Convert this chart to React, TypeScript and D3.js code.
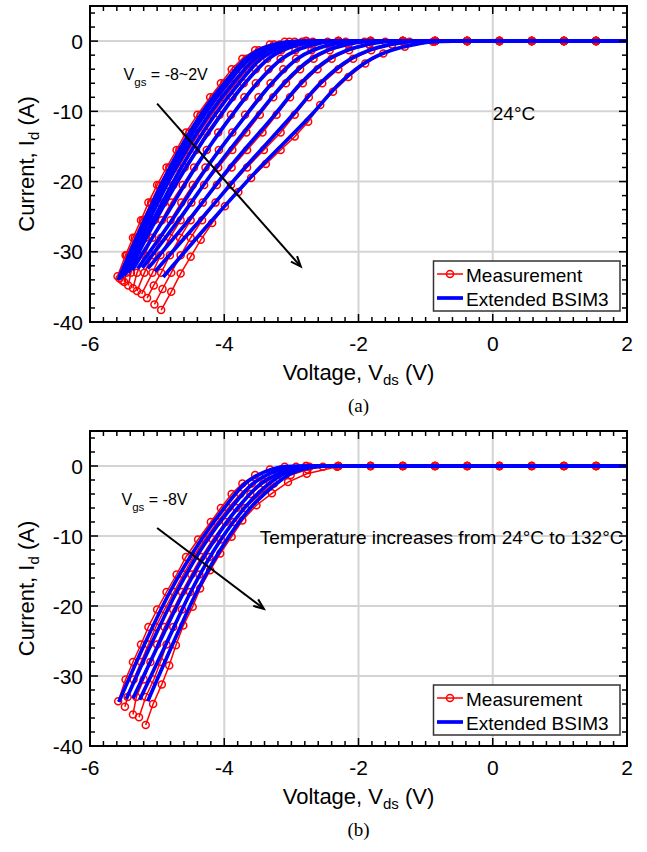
import React from "react";
import * as d3 from "d3";

type Pt = [number, number];

const X_DOMAIN: [number, number] = [-6, 2];
const Y_DOMAIN: [number, number] = [-40, 5];
const xMajorTicks = [-6, -4, -2, 0, 2];
const yMajorTicks = [0, -10, -20, -30, -40];
const xGridValues = [-4, -2, 0];
const yGridValues = [0, -10, -20, -30];
const legendLabels = ["Measurement", "Extended BSIM3"];

// (a) Vgs = -8 ~ 2 V, 24 °C : measured points [Vds, Id]
const measuredVgs: Pt[][] = [
  [[-5.59,-33.5],[-5.47,-30.5],[-5.36,-28],[-5.24,-25.5],[-5.13,-23],[-5.0,-20.5],[-4.86,-18],[-4.71,-15.5],[-4.57,-13],[-4.4,-10.5],[-4.21,-8],[-4.05,-6],[-3.89,-4],[-3.73,-2.5],[-3.54,-1.3],[-3.32,-0.5],[-3.1,-0.1],[-2.78,0],[-2.3,0],[-1.82,0],[-1.34,0],[-0.86,0],[-0.38,0],[0.1,0],[0.58,0],[1.06,0],[1.54,0]],
  [[-5.56,-33.8],[-5.45,-30.5],[-5.33,-28],[-5.21,-25.5],[-5.09,-23],[-4.97,-20.5],[-4.82,-18],[-4.67,-15.5],[-4.52,-13],[-4.35,-10.5],[-4.16,-8],[-4.0,-6],[-3.83,-4],[-3.67,-2.5],[-3.48,-1.3],[-3.26,-0.5],[-3.03,-0.1],[-2.78,0],[-2.3,0],[-1.82,0],[-1.34,0],[-0.86,0],[-0.38,0],[0.1,0],[0.58,0],[1.06,0],[1.54,0]],
  [[-5.52,-34.1],[-5.41,-30.5],[-5.29,-28],[-5.17,-25.5],[-5.05,-23],[-4.91,-20.5],[-4.77,-18],[-4.61,-15.5],[-4.46,-13],[-4.28,-10.5],[-4.09,-8],[-3.92,-6],[-3.76,-4],[-3.59,-2.5],[-3.4,-1.3],[-3.17,-0.5],[-2.95,-0.1],[-2.78,0],[-2.3,0],[-1.82,0],[-1.34,0],[-0.86,0],[-0.38,0],[0.1,0],[0.58,0],[1.06,0],[1.54,0]],
  [[-5.49,-34.3],[-5.46,-33],[-5.36,-30.5],[-5.24,-28],[-5.11,-25.5],[-4.99,-23],[-4.85,-20.5],[-4.69,-18],[-4.53,-15.5],[-4.37,-13],[-4.19,-10.5],[-4.0,-8],[-3.83,-6],[-3.66,-4],[-3.5,-2.5],[-3.29,-1.3],[-3.06,-0.5],[-2.84,-0.1],[-2.3,0],[-1.82,0],[-1.34,0],[-0.86,0],[-0.38,0],[0.1,0],[0.58,0],[1.06,0],[1.54,0]],
  [[-5.43,-34.8],[-5.39,-33],[-5.29,-30.5],[-5.17,-28],[-5.04,-25.5],[-4.9,-23],[-4.76,-20.5],[-4.59,-18],[-4.42,-15.5],[-4.26,-13],[-4.07,-10.5],[-3.88,-8],[-3.71,-6],[-3.53,-4],[-3.36,-2.5],[-3.15,-1.3],[-2.91,-0.5],[-2.68,-0.1],[-2.3,0],[-1.82,0],[-1.34,0],[-0.86,0],[-0.38,0],[0.1,0],[0.58,0],[1.06,0],[1.54,0]],
  [[-5.36,-35.2],[-5.3,-33],[-5.19,-30.5],[-5.07,-28],[-4.93,-25.5],[-4.79,-23],[-4.62,-20.5],[-4.45,-18],[-4.26,-15.5],[-4.09,-13],[-3.9,-10.5],[-3.7,-8],[-3.53,-6],[-3.34,-4],[-3.16,-2.5],[-2.94,-1.3],[-2.69,-0.5],[-2.46,-0.1],[-2.3,0],[-1.82,0],[-1.34,0],[-0.86,0],[-0.38,0],[0.1,0],[0.58,0],[1.06,0],[1.54,0]],
  [[-5.3,-35.6],[-5.19,-33],[-5.07,-30.5],[-4.94,-28],[-4.8,-25.5],[-4.64,-23],[-4.47,-20.5],[-4.28,-18],[-4.08,-15.5],[-3.88,-13],[-3.69,-10.5],[-3.49,-8],[-3.31,-6],[-3.12,-4],[-2.93,-2.5],[-2.7,-1.3],[-2.43,-0.5],[-2.19,-0.1],[-1.82,0],[-1.34,0],[-0.86,0],[-0.38,0],[0.1,0],[0.58,0],[1.06,0],[1.54,0]],
  [[-5.23,-36],[-5.07,-33],[-4.95,-30.5],[-4.81,-28],[-4.65,-25.5],[-4.49,-23],[-4.3,-20.5],[-4.09,-18],[-3.88,-15.5],[-3.67,-13],[-3.47,-10.5],[-3.27,-8],[-3.08,-6],[-2.87,-4],[-2.67,-2.5],[-2.43,-1.3],[-2.15,-0.5],[-1.91,-0.1],[-1.34,0],[-0.86,0],[-0.38,0],[0.1,0],[0.58,0],[1.06,0],[1.54,0]],
  [[-5.15,-36.6],[-5.05,-34.8],[-4.94,-33],[-4.81,-30.5],[-4.66,-28],[-4.5,-25.5],[-4.32,-23],[-4.11,-20.5],[-3.89,-18],[-3.66,-15.5],[-3.43,-13],[-3.22,-10.5],[-3.02,-8],[-2.83,-6],[-2.61,-4],[-2.4,-2.5],[-2.14,-1.3],[-1.84,-0.5],[-1.6,-0.1],[-1.34,0],[-0.86,0],[-0.38,0],[0.1,0],[0.58,0],[1.06,0],[1.54,0]],
  [[-5.04,-37.5],[-4.92,-35.3],[-4.79,-33],[-4.65,-30.5],[-4.5,-28],[-4.33,-25.5],[-4.13,-23],[-3.9,-20.5],[-3.66,-18],[-3.41,-15.5],[-3.16,-13],[-2.95,-10.5],[-2.74,-8],[-2.54,-6],[-2.3,-4],[-2.08,-2.5],[-1.81,-1.3],[-1.5,-0.5],[-1.24,-0.1],[-0.86,0],[-0.38,0],[0.1,0],[0.58,0],[1.06,0],[1.54,0]],
  [[-4.94,-38.3],[-4.79,-35.7],[-4.65,-33.1],[-4.5,-30.7],[-4.35,-28.3],[-4.18,-25.9],[-3.99,-23.5],[-3.79,-21.5],[-3.6,-19.5],[-3.38,-17.5],[-3.16,-15.5],[-2.95,-13.6],[-2.75,-11.5],[-2.57,-9.1],[-2.38,-7.2],[-2.15,-5.1],[-1.9,-3.2],[-1.63,-1.75],[-1.31,-0.8],[-0.89,-0.1],[-0.38,0],[0.1,0],[0.58,0],[1.06,0],[1.54,0]],
];

// (a) Extended BSIM3 model curves
const modelVgs: Pt[][] = [
  [[-5.58,-34],[-5.19,-25.5],[-4.81,-18],[-4.35,-10.5],[-4.0,-6],[-3.68,-2.5],[-3.49,-1.3],[-3.27,-0.5],[-3.05,-0.1],[-2.8,0],[-2.2,0],[2,0]],
  [[-5.56,-33.9],[-5.16,-25.5],[-4.77,-18],[-4.3,-10.5],[-3.95,-6],[-3.62,-2.5],[-3.43,-1.3],[-3.21,-0.5],[-2.98,-0.1],[-2.72,0],[-2.1,0],[2,0]],
  [[-5.53,-33.7],[-5.12,-25.5],[-4.72,-18],[-4.23,-10.5],[-3.87,-6],[-3.54,-2.5],[-3.35,-1.3],[-3.12,-0.5],[-2.9,-0.1],[-2.62,0],[-2.0,0],[2,0]],
  [[-5.49,-33.4],[-5.06,-25.5],[-4.64,-18],[-4.14,-10.5],[-3.78,-6],[-3.45,-2.5],[-3.24,-1.3],[-3.01,-0.5],[-2.79,-0.1],[-2.5,0],[-1.9,0],[2,0]],
  [[-5.43,-33],[-5.02,-25.5],[-4.57,-18],[-4.05,-10.5],[-3.69,-6],[-3.34,-2.5],[-3.13,-1.3],[-2.89,-0.5],[-2.66,-0.1],[-2.35,0],[-1.7,0],[2,0]],
  [[-5.37,-32.6],[-4.91,-25.5],[-4.43,-18],[-3.88,-10.5],[-3.51,-6],[-3.14,-2.5],[-2.92,-1.3],[-2.67,-0.5],[-2.44,-0.1],[-2.1,0],[-1.5,0],[2,0]],
  [[-5.29,-32.4],[-4.78,-25.5],[-4.26,-18],[-3.67,-10.5],[-3.29,-6],[-2.91,-2.5],[-2.68,-1.3],[-2.41,-0.5],[-2.17,-0.1],[-1.85,0],[-1.2,0],[2,0]],
  [[-5.22,-32.3],[-4.68,-25.5],[-4.12,-18],[-3.5,-10.5],[-3.11,-6],[-2.7,-2.5],[-2.46,-1.3],[-2.18,-0.5],[-1.94,-0.1],[-1.6,0],[-1.0,0],[2,0]],
  [[-5.14,-32.4],[-4.53,-25.5],[-3.92,-18],[-3.25,-10.5],[-2.86,-6],[-2.43,-2.5],[-2.17,-1.3],[-1.87,-0.5],[-1.63,-0.1],[-1.3,0],[-0.7,0],[2,0]],
  [[-5.03,-32.8],[-4.36,-25.5],[-3.69,-18],[-2.98,-10.5],[-2.57,-6],[-2.11,-2.5],[-1.84,-1.3],[-1.53,-0.5],[-1.27,-0.1],[-0.95,0],[-0.4,0],[2,0]],
  [[-4.91,-33.6],[-4.18,-25.5],[-3.47,-18],[-2.7,-10.5],[-2.28,-6],[-1.8,-2.5],[-1.51,-1.3],[-1.18,-0.5],[-0.92,-0.1],[-0.6,0],[-0.1,0],[2,0]],
];

// (b) Vgs = -8 V, 24 °C ... 132 °C : measured points
const measuredTemp: Pt[][] = [
  [[-5.58,-33.6],[-5.47,-30.5],[-5.36,-28],[-5.24,-25.5],[-5.13,-23],[-5.0,-20.5],[-4.86,-18],[-4.71,-15.5],[-4.57,-13],[-4.39,-10.5],[-4.2,-8],[-4.05,-6],[-3.89,-4],[-3.73,-2.5],[-3.54,-1.3],[-3.32,-0.5],[-3.1,-0.1],[-2.78,0],[-2.3,0],[-1.82,0],[-1.34,0],[-0.86,0],[-0.38,0],[0.1,0],[0.58,0],[1.06,0],[1.54,0]],
  [[-5.48,-34.4],[-5.44,-33],[-5.35,-30.5],[-5.24,-28],[-5.13,-25.5],[-5.02,-23],[-4.89,-20.5],[-4.75,-18],[-4.61,-15.5],[-4.46,-13],[-4.29,-10.5],[-4.1,-8],[-3.94,-6],[-3.76,-4],[-3.59,-2.5],[-3.38,-1.3],[-3.15,-0.5],[-2.93,-0.1],[-2.78,0],[-2.3,0],[-1.82,0],[-1.34,0],[-0.86,0],[-0.38,0],[0.1,0],[0.58,0],[1.06,0],[1.54,0]],
  [[-5.36,-35.5],[-5.31,-33],[-5.2,-30.5],[-5.1,-28],[-5.0,-25.5],[-4.89,-23],[-4.76,-20.5],[-4.63,-18],[-4.49,-15.5],[-4.34,-13],[-4.17,-10.5],[-3.98,-8],[-3.82,-6],[-3.61,-4],[-3.42,-2.5],[-3.2,-1.3],[-2.96,-0.5],[-2.73,-0.1],[-2.3,0],[-1.82,0],[-1.34,0],[-0.86,0],[-0.38,0],[0.1,0],[0.58,0],[1.06,0],[1.54,0]],
  [[-5.27,-35.9],[-5.17,-33],[-5.05,-30.5],[-4.95,-28],[-4.86,-25.5],[-4.76,-23],[-4.63,-20.5],[-4.51,-18],[-4.37,-15.5],[-4.22,-13],[-4.05,-10.5],[-3.86,-8],[-3.69,-6],[-3.46,-4],[-3.26,-2.5],[-3.01,-1.3],[-2.76,-0.5],[-2.53,-0.1],[-2.3,0],[-1.82,0],[-1.34,0],[-0.86,0],[-0.38,0],[0.1,0],[0.58,0],[1.06,0],[1.54,0]],
  [[-5.17,-37],[-5.06,-34],[-4.93,-31.2],[-4.82,-28.5],[-4.72,-25.6],[-4.61,-22.8],[-4.47,-20.1],[-4.36,-17.5],[-4.21,-14.9],[-4.06,-12.5],[-3.89,-10.1],[-3.73,-7.8],[-3.52,-5.6],[-3.29,-3.9],[-3.05,-2.3],[-2.77,-1.1],[-2.32,-0.1],[-1.82,0],[-1.34,0],[-0.86,0],[-0.38,0],[0.1,0],[0.58,0],[1.06,0],[1.54,0]],
];

// (b) Extended BSIM3 model curves
const modelTemp: Pt[][] = [
  [[-5.57,-33.7],[-5.19,-25.5],[-4.81,-18],[-4.34,-10.5],[-4.0,-6],[-3.69,-2.5],[-3.5,-1.3],[-3.3,-0.5],[-3.1,-0.1],[-2.85,0],[-2.3,0],[2,0]],
  [[-5.46,-33.3],[-5.09,-25.5],[-4.71,-18],[-4.25,-10.5],[-3.9,-6],[-3.57,-2.5],[-3.37,-1.3],[-3.16,-0.5],[-2.96,-0.1],[-2.72,0],[-2.2,0],[2,0]],
  [[-5.36,-33.2],[-4.98,-25.5],[-4.6,-18],[-4.14,-10.5],[-3.8,-6],[-3.45,-2.5],[-3.24,-1.3],[-3.02,-0.5],[-2.82,-0.1],[-2.58,0],[-2.0,0],[2,0]],
  [[-5.26,-33.4],[-4.87,-25.5],[-4.5,-18],[-4.05,-10.5],[-3.7,-6],[-3.33,-2.5],[-3.15,-1.3],[-2.93,-0.5],[-2.72,-0.1],[-2.5,0],[-1.9,0],[2,0]],
  [[-5.14,-33.6],[-4.77,-25.5],[-4.41,-18],[-3.96,-10.5],[-3.61,-6],[-3.22,-2.5],[-3.05,-1.3],[-2.84,-0.5],[-2.62,-0.1],[-2.4,0],[-1.7,0],[2,0]],
];

// annotation anchors in data coordinates
const arrowTop: Pt[] = [[-5.0, -8.9], [-2.86, -32.1]];
const arrowBottom: Pt[] = [[-5.0, -8.85], [-3.41, -20.4]];
const vgsLabelTop: Pt = [-5.5, -5.55];
const vgsLabelBottom: Pt = [-5.53, -5.6];
const tempLabelTop: Pt = [0.0, -11.2];
const tempNoteBottom: Pt = [-3.47, -11.1];

const FONT = "'Liberation Sans', Arial, Helvetica, sans-serif";
const SERIF = "'Liberation Serif', 'Times New Roman', serif";
const LEFT = 90;
const RIGHT = 627;

type PanelProps = {
  id: string;
  top: number;
  bottom: number;
  measured: Pt[][];
  model: Pt[][];
  caption: string;
  arrow: Pt[];
  vgsAnchor: Pt;
  vgsText: string;
  note: { at: Pt; text: string };
};

function Panel(p: PanelProps) {
  const x = d3.scaleLinear().domain(X_DOMAIN).range([LEFT, RIGHT]);
  const y = d3.scaleLinear().domain(Y_DOMAIN).range([p.bottom, p.top]);
  const redLine = d3.line<Pt>().x((d) => x(d[0])).y((d) => y(d[1]));
  const blueLine = d3
    .line<Pt>()
    .x((d) => x(d[0]))
    .y((d) => y(d[1]))
    .curve(d3.curveMonotoneX);

  const xMinor = x.ticks(40);
  const yMinor = y.ticks(22);
  const isXMajor = (v: number) => Math.abs(v / 2 - Math.round(v / 2)) < 1e-6;
  const isYMajor = (v: number) => Math.abs(v / 10 - Math.round(v / 10)) < 1e-6;
  const MAJ = 8;
  const MIN = 5;

  const [a0, a1] = p.arrow;
  const ax0 = x(a0[0]), ay0 = y(a0[1]), ax1 = x(a1[0]), ay1 = y(a1[1]);
  const ang = Math.atan2(ay1 - ay0, ax1 - ax0);
  const HL = 11, HA = 0.38;
  const w1: Pt = [ax1 - HL * Math.cos(ang - HA), ay1 - HL * Math.sin(ang - HA)];
  const w2: Pt = [ax1 - HL * Math.cos(ang + HA), ay1 - HL * Math.sin(ang + HA)];

  const legTop = p.bottom - 61;
  const legBot = p.bottom - 11;
  const midX = (LEFT + RIGHT) / 2;
  const midY = (p.top + p.bottom) / 2;

  return (
    <g>
      <defs>
        <clipPath id={`clip-${p.id}`}>
          <rect x={LEFT} y={p.top} width={RIGHT - LEFT} height={p.bottom - p.top} />
        </clipPath>
      </defs>
      {xGridValues.map((v) => (
        <line key={`gx${v}`} x1={x(v)} x2={x(v)} y1={p.top} y2={p.bottom} stroke="#d4d4d4" strokeWidth={2} />
      ))}
      {yGridValues.map((v) => (
        <line key={`gy${v}`} x1={LEFT} x2={RIGHT} y1={y(v)} y2={y(v)} stroke="#d4d4d4" strokeWidth={2} />
      ))}
      <g clipPath={`url(#clip-${p.id})`}>
        {p.measured.map((c, i) => (
          <g key={`m${i}`}>
            <path d={redLine(c) || ""} fill="none" stroke="#ff0000" strokeWidth={1.5} />
            {c.map((d, j) => (
              <circle key={j} cx={x(d[0])} cy={y(d[1])} r={3.5} fill="none" stroke="#ff0000" strokeWidth={1.5} />
            ))}
          </g>
        ))}
        {p.model.map((c, i) => (
          <path key={`b${i}`} d={blueLine(c) || ""} fill="none" stroke="#0000ff" strokeWidth={3.7} />
        ))}
      </g>
      {xMinor.map((v, i) => {
        const L = isXMajor(v) ? MAJ : MIN;
        return (
          <g key={`tx${i}`}>
            <line x1={x(v)} x2={x(v)} y1={p.bottom} y2={p.bottom - L} stroke="#000" strokeWidth={1.5} />
            <line x1={x(v)} x2={x(v)} y1={p.top} y2={p.top + L} stroke="#000" strokeWidth={1.5} />
          </g>
        );
      })}
      {yMinor.map((v, i) => {
        const L = isYMajor(v) ? MAJ : MIN;
        return (
          <g key={`ty${i}`}>
            <line x1={LEFT} x2={LEFT + L} y1={y(v)} y2={y(v)} stroke="#000" strokeWidth={1.5} />
            <line x1={RIGHT} x2={RIGHT - L} y1={y(v)} y2={y(v)} stroke="#000" strokeWidth={1.5} />
          </g>
        );
      })}
      <rect x={LEFT} y={p.top} width={RIGHT - LEFT} height={p.bottom - p.top} fill="none" stroke="#000" strokeWidth={2} />
      {xMajorTicks.map((v) => (
        <text key={`lx${v}`} x={x(v)} y={p.bottom + 28.5} textAnchor="middle" fontSize={21} fontFamily={FONT}>
          {v}
        </text>
      ))}
      {yMajorTicks.map((v) => (
        <text key={`ly${v}`} x={83} y={y(v) + 7.5} textAnchor="end" fontSize={21} fontFamily={FONT}>
          {v}
        </text>
      ))}
      <text x={midX} y={p.bottom + 58} textAnchor="middle" fontSize={22} fontFamily={FONT}>
        Voltage, V<tspan dy={5} fontSize={15}>ds</tspan>
        <tspan dy={-5}> (V)</tspan>
      </text>
      <text transform={`translate(33.5,${midY}) rotate(-90)`} textAnchor="middle" fontSize={22} fontFamily={FONT}>
        Current, I<tspan dy={5} fontSize={15}>d</tspan>
        <tspan dy={-5}> (A)</tspan>
      </text>
      <text x={midX} y={p.bottom + 89.5} textAnchor="middle" fontSize={19} fontFamily={SERIF}>
        {p.caption}
      </text>
      <line x1={ax0} y1={ay0} x2={ax1} y2={ay1} stroke="#000" strokeWidth={2} />
      <polyline points={`${w1[0]},${w1[1]} ${ax1},${ay1} ${w2[0]},${w2[1]}`} fill="none" stroke="#000" strokeWidth={2} />
      <text x={x(p.vgsAnchor[0])} y={y(p.vgsAnchor[1])} fontSize={16} fontFamily={FONT}>
        V<tspan dy={6} fontSize={11.5}>gs</tspan>
        <tspan dy={-6}>{p.vgsText}</tspan>
      </text>
      <text x={x(p.note.at[0])} y={y(p.note.at[1])} fontSize={19} fontFamily={FONT}>
        {p.note.text}
      </text>
      <rect x={433.5} y={legTop} width={186.5} height={legBot - legTop} fill="#fff" stroke="#333" strokeWidth={1.5} />
      <line x1={437} x2={463} y1={legTop + 13} y2={legTop + 13} stroke="#ff0000" strokeWidth={1.5} />
      <circle cx={450} cy={legTop + 13} r={3.5} fill="none" stroke="#ff0000" strokeWidth={1.5} />
      <text x={466} y={legTop + 20.5} fontSize={19} fontFamily={FONT}>
        {legendLabels[0]}
      </text>
      <line x1={437} x2={463} y1={legTop + 37} y2={legTop + 37} stroke="#0000ff" strokeWidth={3.7} />
      <text x={466} y={legTop + 44.5} fontSize={19} fontFamily={FONT}>
        {legendLabels[1]}
      </text>
    </g>
  );
}

export default function App() {
  return (
    <svg
      width={647}
      height={852}
      viewBox="0 0 647 852"
      style={{ position: "absolute", left: 0, top: 0, background: "#fff" }}
    >
      <rect x={0} y={0} width={647} height={852} fill="#fff" />
      <Panel
        id="a"
        top={6}
        bottom={322}
        measured={measuredVgs}
        model={modelVgs}
        caption="(a)"
        arrow={arrowTop}
        vgsAnchor={vgsLabelTop}
        vgsText=" = -8~2V"
        note={{ at: tempLabelTop, text: "24°C" }}
      />
      <Panel
        id="b"
        top={431}
        bottom={746}
        measured={measuredTemp}
        model={modelTemp}
        caption="(b)"
        arrow={arrowBottom}
        vgsAnchor={vgsLabelBottom}
        vgsText=" = -8V"
        note={{ at: tempNoteBottom, text: "Temperature increases from 24°C to 132°C" }}
      />
    </svg>
  );
}
